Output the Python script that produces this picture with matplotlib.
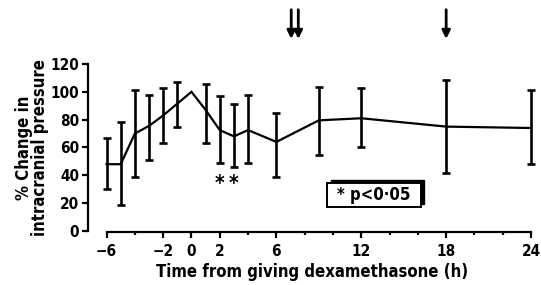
import matplotlib.pyplot as plt
from matplotlib.patches import Rectangle
import numpy as np

plt.rcParams['font.family'] = ['DejaVu Sans']
plt.rcParams['font.weight'] = 'bold'
plt.rcParams['font.stretch'] = 'condensed'

# data
hours = [-6, -5, -4, -3, -2, -1, 0, 1, 2, 3, 4, 6, 9, 12, 18, 24]
change = [48, 48, 70, 75.5, 83, 91.5, 100, 87, 72.5, 68, 72.5, 64, 79.5, 81, 75, 74]
upper = [67, 78, 101, 98, 102.5, 107, 100, 105.5, 97, 91, 97.5, 85, 103.5, 102.5, 108.5, 101.5]
lower = [30, 19, 38.5, 51, 63.5, 75, 100, 63, 49, 46, 48.5, 38.5, 54.5, 60, 42, 48]
signif = [2, 3]
arrow_hours = [7.05, 7.55, 18]

x_major = [-6, -2, 0, 2, 6, 12, 18, 24]
x_minor = [-4, 4, 8, 10, 14, 16, 20, 22]
y_ticks = [0, 20, 40, 60, 80, 100, 120]

fig = plt.figure(figsize=(5.41, 2.85), dpi=100)
ax = fig.add_axes([0.1627, 0.1895, 0.8268, 0.586])

h = np.array(hours, dtype=float)
m = np.array(change, dtype=float)
up = np.array(upper, dtype=float) - m
lo = m - np.array(lower, dtype=float)
has_err = (up > 0) | (lo > 0)

ax.plot(h, m, color='black', lw=1.6, solid_joinstyle='miter')
ax.errorbar(h[has_err], m[has_err], yerr=[lo[has_err], up[has_err]], fmt='none',
            ecolor='black', elinewidth=1.9, capsize=3.2, capthick=1.9)

for s in signif:
    ax.text(s, 34, '*', ha='center', va='center', fontsize=15)

# arrows above the plot
for a in arrow_hours:
    ax.annotate('', xy=(a, 138), xytext=(a, 159), annotation_clip=False,
                arrowprops=dict(arrowstyle='-|>', color='black', lw=2.0,
                                mutation_scale=12, shrinkA=0, shrinkB=0))

# boxed key with shadow
ax.add_patch(Rectangle((9.85, 19.6), 6.6, 17.3, facecolor='black', edgecolor='black', zorder=4))
ax.add_patch(Rectangle((9.6, 17.2), 6.6, 17.3, facecolor='white', edgecolor='black', lw=1.4, zorder=5))
ax.text(12.9, 25.6, '* p<0·05', ha='center', va='center', fontsize=12, zorder=6)

ax.set_xlim(-7.31, 24.3)
ax.set_ylim(0, 120)
for side in ['top', 'right']:
    ax.spines[side].set_visible(False)
ax.spines['left'].set_bounds(0, 120)
ax.spines['bottom'].set_bounds(-6, 24)
ax.spines['left'].set_linewidth(1.6)
ax.spines['bottom'].set_linewidth(1.6)
ax.spines['bottom'].set_position(('outward', 1))

ax.set_xticks(x_major)
ax.set_xticks(x_minor, minor=True)
ax.set_yticks(y_ticks)
ax.tick_params(axis='both', which='major', length=4.5, width=1.6, labelsize=11, pad=2)
ax.tick_params(axis='x', which='major', pad=4)
ax.tick_params(axis='x', which='minor', length=2.5, width=1.6)
for lab in ax.get_xticklabels() + ax.get_yticklabels():
    lab.set_fontweight('bold')

ax.set_xlabel('Time from giving dexamethasone (h)', fontsize=12, fontweight='bold', labelpad=3)
ax.set_ylabel('% Change in\nintracranial pressure', fontsize=12, fontweight='bold',
              linespacing=0.85, labelpad=1)

fig.savefig('out.png', dpi=100)
